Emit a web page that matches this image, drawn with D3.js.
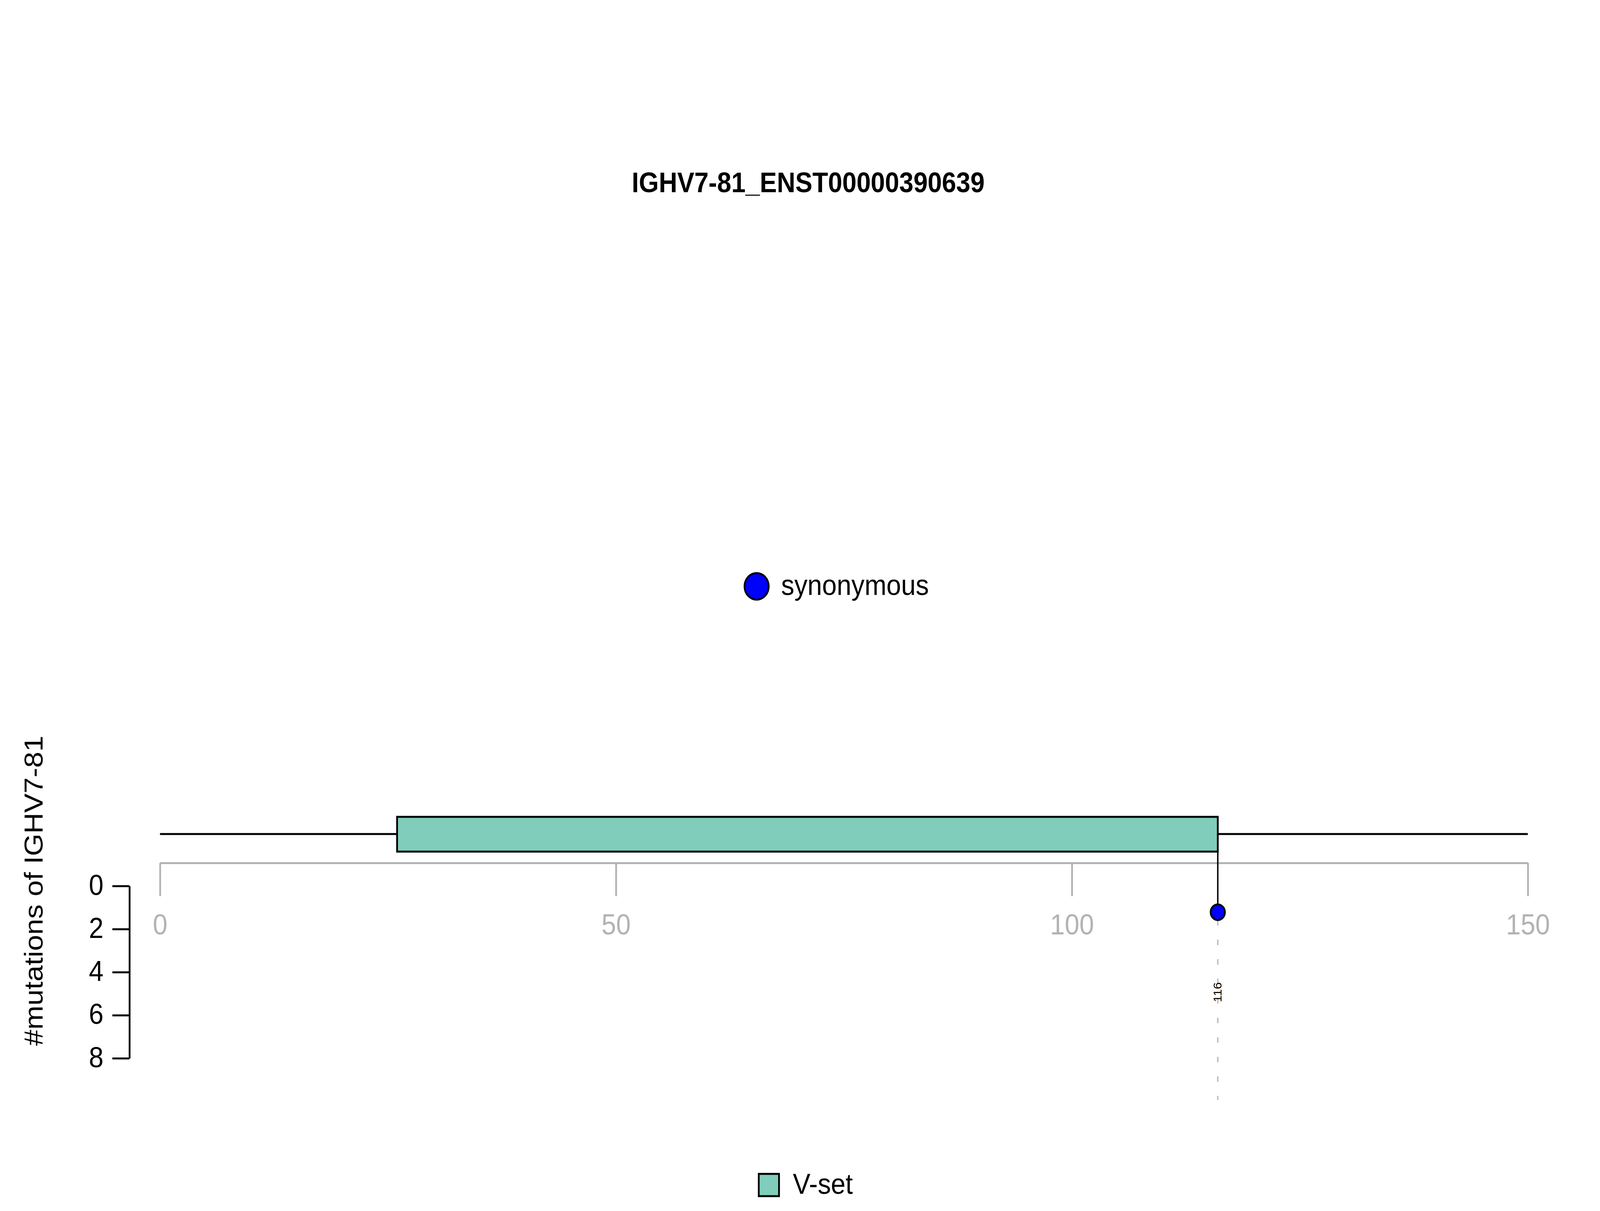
<!DOCTYPE html>
<html><head><meta charset="utf-8">
<script src="https://cdn.jsdelivr.net/npm/d3@7"></script>
<style>html,body{margin:0;padding:0;background:#fff;overflow:hidden}svg{display:block;width:100vw;height:100vh}</style>
</head><body>
<div id="chart"></div>
<script>
var title = "IGHV7-81_ENST00000390639";
var geneName = "IGHV7-81";
var proteinLength = 150;
var domains = [{name: "V-set", start: 26, end: 116, color: "#80CDBC"}];
var mutations = [{pos: 116, count: 1, type: "synonymous"}];
var mutTypes = ["synonymous"], mutColors = ["#0000FF"];
var xTicks = [0, 50, 100, 150];
var yTicks = [0, 2, 4, 6, 8];

var W = 4500, H = 3100, font = "Liberation Sans, Arial, sans-serif";
var svg = d3.select("#chart").append("svg").attr("viewBox", "0 0 " + W + " " + H)
  .attr("preserveAspectRatio", "none")
  .style("font-family", font);

var x = d3.scaleLinear().domain([0, proteinLength]).range([450, 4297]);
var y = d3.scaleLinear().domain([0, 8]).range([2268, 2709]);
var backboneY = 2135, domTop = 2091, domBot = 2180, axisY = 2209;

svg.append("text").attr("x", 2273).attr("y", 473).attr("text-anchor", "middle")
  .attr("dominant-baseline", "middle").attr("font-weight", "bold").attr("font-size", 72).text(title);

// mutation legend
var color = d3.scaleOrdinal().domain(mutTypes).range(mutColors);
mutTypes.forEach(function(t, i){
  svg.append("circle").attr("cx", 2128).attr("cy", 1501).attr("r", 34)
    .attr("fill", color(t)).attr("stroke", "#000").attr("stroke-width", 5);
  svg.append("text").attr("x", 2197).attr("y", 1503).attr("dominant-baseline", "middle")
    .attr("font-size", 74).text(t);
});

// backbone + domains
svg.append("line").attr("x1", x(0)).attr("x2", x(proteinLength))
  .attr("y1", backboneY).attr("y2", backboneY).attr("stroke", "#000").attr("stroke-width", 5);
svg.selectAll("rect.dom").data(domains).enter().append("rect")
  .attr("x", d => x(d.start)).attr("width", d => x(d.end) - x(d.start))
  .attr("y", domTop).attr("height", domBot - domTop)
  .attr("fill", d => d.color).attr("stroke", "#000").attr("stroke-width", 5);

// x axis
var xa = svg.append("g").attr("transform", "translate(0," + axisY + ")")
  .call(d3.axisBottom(x).tickValues(xTicks).tickSize(85).tickSizeOuter(0).tickPadding(45));
xa.selectAll("line,path").attr("stroke", "#b3b3b3").attr("stroke-width", 5);
xa.selectAll("text").attr("fill", "#b3b3b3").attr("font-size", 74).attr("font-family", font);

// y axis
var ya = svg.append("g").attr("transform", "translate(364,0)")
  .call(d3.axisLeft(y).tickValues(yTicks).tickSize(48).tickSizeOuter(0).tickPadding(25));
ya.selectAll("line,path").attr("stroke", "#000").attr("stroke-width", 5);
ya.selectAll("text").attr("fill", "#000").attr("font-size", 74).attr("font-family", font)
  .attr("dy", "0.3em");
svg.append("text").attr("transform", "translate(120,2280) rotate(-90)")
  .attr("text-anchor", "middle").attr("font-size", 74).text("#mutations of " + geneName);

// lollipops
var g = svg.append("g");
mutations.forEach(function(m){
  var cx = x(m.pos), cy = y(m.count) + 12;
  g.append("line").attr("x1", cx).attr("x2", cx).attr("y1", domBot).attr("y2", cy)
    .attr("stroke", "#000").attr("stroke-width", 4);
  g.append("line").attr("x1", cx).attr("x2", cx).attr("y1", cy + 20).attr("y2", 2816)
    .attr("stroke", "#bdbdbd").attr("stroke-width", 4).attr("stroke-dasharray", "14,36");
  g.append("circle").attr("cx", cx).attr("cy", cy).attr("r", 20)
    .attr("fill", color(m.type)).attr("stroke", "#000").attr("stroke-width", 5);
  g.append("text").attr("transform", "translate(" + (cx + 10) + ",2540) rotate(-90)")
    .attr("text-anchor", "middle").attr("font-size", 32).text(m.pos);
});

// domain legend
domains.forEach(function(d){
  svg.append("rect").attr("x", 2134).attr("y", 3005).attr("width", 57).attr("height", 57)
    .attr("fill", d.color).attr("stroke", "#000").attr("stroke-width", 5);
  svg.append("text").attr("x", 2230).attr("y", 3036).attr("dominant-baseline", "middle")
    .attr("font-size", 74).text(d.name);
});
</script>
</body></html>
